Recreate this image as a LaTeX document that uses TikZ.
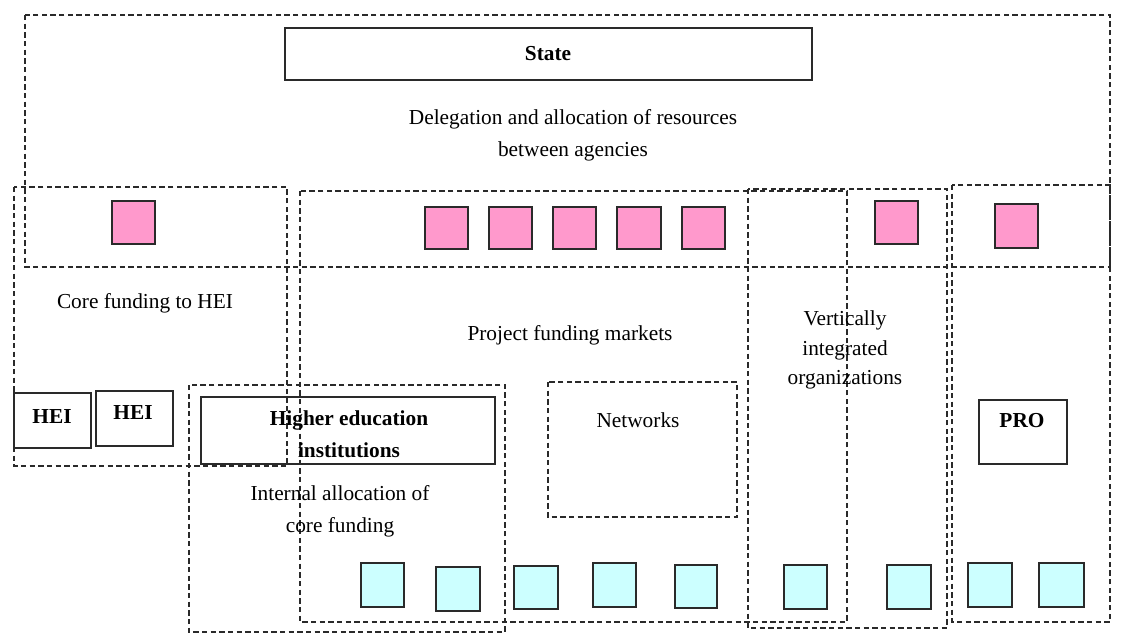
\documentclass[tikz,border=0pt]{standalone}
\usepackage{fontspec}
\setmainfont{Liberation Serif}
\definecolor{pinkfill}{HTML}{FF99CC}
\definecolor{cyanfill}{HTML}{CCFFFF}
\definecolor{edgecol}{HTML}{2A2A2A}
\tikzset{
  dbox/.style={draw=edgecol, line width=1.3pt, dash pattern=on 4pt off 2.5pt},
  sbox/.style={draw=edgecol, line width=1.3pt},
  pinksq/.style={draw=edgecol, line width=1.3pt, fill=pinkfill},
  cyansq/.style={draw=edgecol, line width=1.3pt, fill=cyanfill},
  txt/.style={font=\fontsize{16pt}{24pt}\selectfont, align=center, inner sep=0pt},
  btxt/.style={font=\fontsize{16pt}{24pt}\selectfont\bfseries, align=center, inner sep=0pt},
}
\begin{document}
\begin{tikzpicture}[x=0.75pt, y=-0.75pt]
\useasboundingbox (0,0) rectangle (1129,633);
% dashed regions
\draw[dbox] (25,15) rectangle (1110,267);
\draw[dbox] (14,187) rectangle (287,466);
\draw[dbox] (300,191) rectangle (847,622);
\draw[dbox] (748,189) rectangle (947,628);
\draw[dbox] (952,185) rectangle (1110,622);
\draw[dbox] (548,382) rectangle (737,517);
\draw[dbox] (189,385) rectangle (505,632);
% solid boxes
\draw[sbox] (285,28) rectangle (812,80);
\draw[sbox] (14,393) rectangle (91,448);
\draw[sbox] (96,391) rectangle (173,446);
\draw[sbox] (201,397) rectangle (495,464);
\draw[sbox] (979,400) rectangle (1067,464);
% pink squares
\draw[pinksq] (112,201) rectangle (155,244);
\draw[pinksq] (425,207) rectangle (468,249);
\draw[pinksq] (489,207) rectangle (532,249);
\draw[pinksq] (553,207) rectangle (596,249);
\draw[pinksq] (617,207) rectangle (661,249);
\draw[pinksq] (682,207) rectangle (725,249);
\draw[pinksq] (875,201) rectangle (918,244);
\draw[pinksq] (995,204) rectangle (1038,248);
% cyan squares
\draw[cyansq] (361,563) rectangle (404,607);
\draw[cyansq] (436,567) rectangle (480,611);
\draw[cyansq] (514,566) rectangle (558,609);
\draw[cyansq] (593,563) rectangle (636,607);
\draw[cyansq] (675,565) rectangle (717,608);
\draw[cyansq] (784,565) rectangle (827,609);
\draw[cyansq] (887,565) rectangle (931,609);
\draw[cyansq] (968,563) rectangle (1012,607);
\draw[cyansq] (1039,563) rectangle (1084,607);
% texts
\node[btxt] (state) at (548,54) {State};
\node[txt] (deleg) at (573,135) {Delegation and allocation of resources\\between agencies};
\node[txt] (core) at (145,303) {Core funding to HEI};
\node[txt] (proj) at (570,335) {Project funding markets};
\node[txt, font=\fontsize{16pt}{22pt}\selectfont] (vert) at (845,350) {Vertically\\integrated\\organizations};
\node[txt] (net) at (638,420) {Networks};
\node[btxt] (hei1) at (52,417) {HEI};
\node[btxt] (hei2) at (133,413) {HEI};
\node[btxt] (hei) at (349,434) {Higher education\\institutions};
\node[txt] (intern) at (340,511) {Internal allocation of\\core funding};
\node[btxt] (pro) at (1022,421) {PRO};
\end{tikzpicture}
\end{document}
